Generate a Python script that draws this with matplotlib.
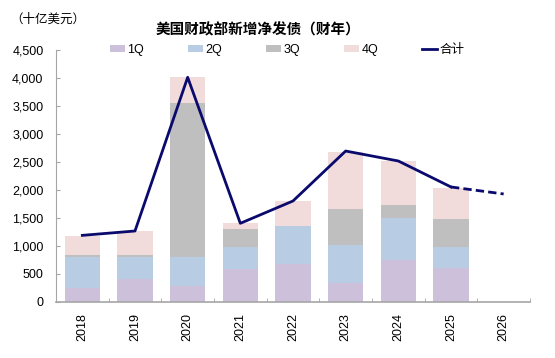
import numpy as np
import matplotlib
matplotlib.use("Agg")
import matplotlib.pyplot as plt
from matplotlib.ticker import FuncFormatter

plt.rcParams['font.family'] = ['Liberation Sans', 'Noto Sans CJK SC', 'DejaVu Sans']

# fiscal years and quarterly net issuance (billion USD)
years = ['2018', '2019', '2020', '2021', '2022', '2023', '2024', '2025', '2026']
q1 = [255, 410, 290, 584, 673, 345, 755, 605, np.nan]
q2 = [554, 399, 519, 404, 684, 673, 751, 383, np.nan]
q3 = [31, 25, 2739, 310, 0, 649, 230, 494, np.nan]
q4 = [339, 434, 464, 107, 447, 1018, 782, 553, np.nan]
total = [1190, 1268, 4012, 1405, 1804, 2696, 2518, 2054, 1929]

colors = ['#CCC0DA', '#B8CCE4', '#BFBFBF', '#F2DCDB']
line_color = '#0A0A6E'
axis_gray = '#A6A6A6'

fig = plt.figure(figsize=(5.55, 3.58), dpi=100)
ax = fig.add_axes([56 / 555, 1 - 302 / 358, (530 - 56) / 555, (302 - 50) / 358])

x = np.arange(len(years))
bottom = np.zeros(len(years))
bars = []
for vals, c, lab in zip([q1, q2, q3, q4], colors, ['1Q', '2Q', '3Q', '4Q']):
    v = np.nan_to_num(np.array(vals, dtype=float))
    b = ax.bar(x, v, width=0.67, bottom=bottom, color=c, label=lab, zorder=2)
    bars.append(b)
    bottom += v

# solid through 2025, dashed to the 2026 estimate
line, = ax.plot(x[:8], total[:8], color=line_color, lw=2.0, zorder=3, label='合计')
ax.plot(x[7:], total[7:], color=line_color, lw=2.0, ls=(0, (3, 1.5)), zorder=3)

ax.set_xlim(-0.5, len(years) - 0.5)
ax.set_ylim(0, 4500)
ax.set_yticks(np.arange(0, 4501, 500))
ax.yaxis.set_major_formatter(FuncFormatter(lambda v, p: f'{int(v):,}'))

ax.set_xticks(x)
ax.set_xticklabels(years, rotation=90, fontsize=9)
ax.set_xticks(np.arange(-0.5, len(years), 1), minor=True)
ax.tick_params(axis='x', which='major', length=0, pad=8)
ax.tick_params(axis='x', which='minor', length=3, direction='in', color=axis_gray)
ax.tick_params(axis='y', length=3, direction='in', color=axis_gray, labelsize=9, pad=9)

for s in ['top', 'right']:
    ax.spines[s].set_visible(False)
ax.spines['left'].set_color(axis_gray)
ax.spines['bottom'].set_color(axis_gray)
ax.spines['bottom'].set_linewidth(1.2)

fig.text(10 / 555, 1 - 20 / 358, '（十亿美元）', fontsize=9, va='center', ha='left')
fig.text(258 / 555, 1 - 30 / 358, '美国财政部新增净发债（财年）', fontsize=10.5,
         fontweight='bold', va='center', ha='center')

fig.legend(handles=bars + [line], labels=['1Q', '2Q', '3Q', '4Q', '合计'],
           loc='center left', bbox_to_anchor=(110 / 555, 1 - 50 / 358),
           ncol=5, frameon=False, fontsize=9, handlelength=1.2, handleheight=0.5,
           handletextpad=0.2, columnspacing=3.5, borderaxespad=0, borderpad=0)

fig.savefig('out.png', dpi=100)
